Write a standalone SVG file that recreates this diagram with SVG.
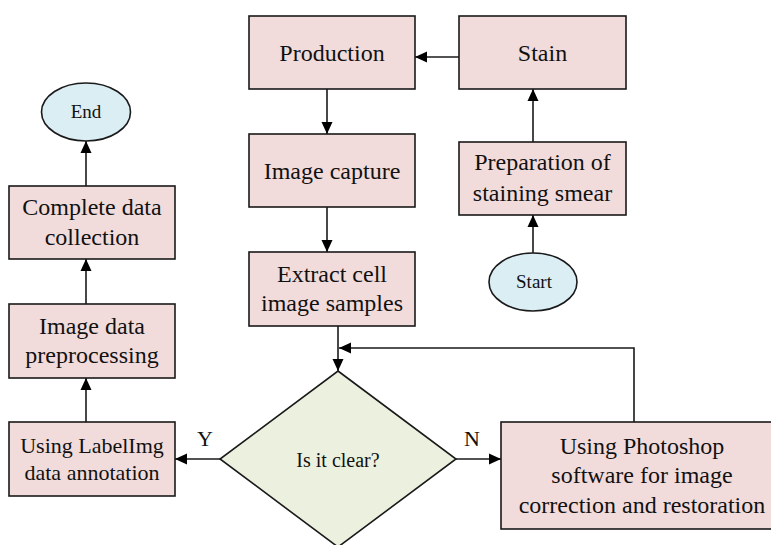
<svg xmlns="http://www.w3.org/2000/svg" width="771" height="545" viewBox="0 0 771 545">
<defs>
<marker id="ah" markerUnits="userSpaceOnUse" markerWidth="12" markerHeight="12" viewBox="0 0 12 12" refX="12" refY="6" orient="auto">
<path d="M0,0.5 L12,6 L0,11.5 Z" fill="#000"/>
</marker>
<style>
.box{fill:#f2dcdb;stroke:#1a1a1a;stroke-width:1.6}
.ell{fill:#dbeef4;stroke:#1a1a1a;stroke-width:1.6}
.dia{fill:#ebf1de;stroke:#1a1a1a;stroke-width:1.6}
text{fill:#111;text-anchor:middle}
.c{fill:none;stroke:#1a1a1a;stroke-width:1.6}
</style>
</defs>
<rect width="771" height="545" fill="#fff"/>
<g font-family="Liberation Serif, Tinos, Times New Roman, DejaVu Serif, serif" font-size="24">
<g id="connectors">
<line class="c" x1="459" y1="57" x2="415" y2="57" marker-end="url(#ah)"/>
<line class="c" x1="327" y1="89" x2="327" y2="134" marker-end="url(#ah)"/>
<line class="c" x1="327" y1="207" x2="327" y2="252" marker-end="url(#ah)"/>
<line class="c" x1="338" y1="326" x2="338" y2="371" marker-end="url(#ah)"/>
<line class="c" x1="533" y1="253" x2="533" y2="215" marker-end="url(#ah)"/>
<line class="c" x1="533" y1="142" x2="533" y2="89" marker-end="url(#ah)"/>
<polyline class="c" points="634,422 634,348 339,348" marker-end="url(#ah)"/>
<line class="c" x1="456" y1="459" x2="501" y2="459" marker-end="url(#ah)"/>
<line class="c" x1="220" y1="459" x2="175" y2="459" marker-end="url(#ah)"/>
<line class="c" x1="86" y1="422" x2="86" y2="378" marker-end="url(#ah)"/>
<line class="c" x1="86" y1="304" x2="86" y2="259" marker-end="url(#ah)"/>
<line class="c" x1="86" y1="186" x2="86" y2="141" marker-end="url(#ah)"/>
<text x="205" y="446" font-size="22">Y</text>
<text x="472" y="446" font-size="22">N</text>
</g>
<g id="production">
<rect class="box" x="249" y="16" width="166" height="73"/>
<text x="332" y="61">Production</text>
</g>
<g id="stain">
<rect class="box" x="459" y="16" width="167" height="73"/>
<text x="542.5" y="61">Stain</text>
</g>
<g id="image-capture">
<rect class="box" x="249" y="134" width="166" height="73"/>
<text x="332" y="179">Image capture</text>
</g>
<g id="preparation">
<rect class="box" x="459" y="142" width="167" height="73"/>
<text x="542.5" y="170">Preparation of</text>
<text x="542.5" y="201">staining smear</text>
</g>
<g id="start">
<ellipse class="ell" cx="533" cy="282" rx="44" ry="29"/>
<text x="534" y="288" font-size="19">Start</text>
</g>
<g id="extract">
<rect class="box" x="249" y="252" width="166" height="74"/>
<text x="332" y="282">Extract cell</text>
<text x="332" y="311">image samples</text>
</g>
<g id="decision">
<polygon class="dia" points="338,371 456,459 338,547 220,459"/>
<text x="338" y="467" font-size="20">Is it clear?</text>
</g>
<g id="photoshop">
<rect class="box" x="501" y="422" width="285" height="107"/>
<text x="642" y="454">Using Photoshop</text>
<text x="642" y="483">software for image</text>
<text x="642" y="513">correction and restoration</text>
</g>
<g id="labelimg">
<rect class="box" x="9" y="422" width="166" height="74"/>
<text x="92" y="453" font-size="22">Using LabelImg</text>
<text x="92" y="480" font-size="22">data annotation</text>
</g>
<g id="preprocessing">
<rect class="box" x="9" y="304" width="166" height="74"/>
<text x="92" y="334">Image data</text>
<text x="92" y="363">preprocessing</text>
</g>
<g id="complete">
<rect class="box" x="9" y="186" width="166" height="73"/>
<text x="92" y="215">Complete data</text>
<text x="92" y="245">collection</text>
</g>
<g id="end">
<ellipse class="ell" cx="86" cy="112" rx="44.5" ry="29"/>
<text x="86" y="118" font-size="19">End</text>
</g>
</g>
</svg>
